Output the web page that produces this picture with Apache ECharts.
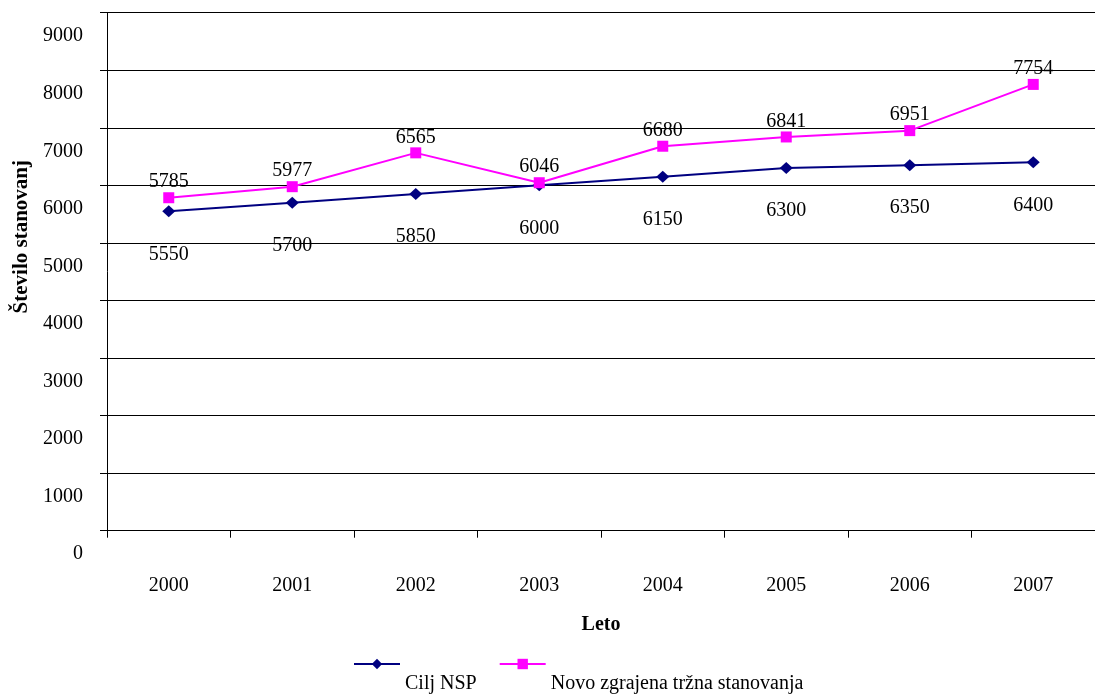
<!DOCTYPE html>
<html>
<head>
<meta charset="utf-8">
<script src="https://cdn.jsdelivr.net/npm/echarts@6/dist/echarts.min.js"></script>
<style>
    html, body { margin: 0; padding: 0; background: #fff; }
    #chart { width: 1095px; height: 697px; }
</style>
</head>
<body>
<div id="chart"></div>
<script>
// podatki
var years = ['2000', '2001', '2002', '2003', '2004', '2005', '2006', '2007']
var ciljNsp = [5550, 5700, 5850, 6000, 6150, 6300, 6350, 6400]
var novoZgrajena = [5785, 5977, 6565, 6046, 6680, 6841, 6951, 7754]

var serif = '"Liberation Serif", "DejaVu Serif", serif'

var myChart = echarts.init(document.getElementById('chart'))

var option = {
    backgroundColor: '#fff',
    animation: false,
    textStyle: {
        fontFamily: serif,
        color: '#000'
    },
    grid: {
        left: 107,
        right: -10,
        top: 12.7,
        bottom: 166.3,
        containLabel: false
    },
    legend: {
        top: 619,
        left: 348,
        itemWidth: 46,
        itemHeight: 13,
        itemGap: 22,
        // besedilo legende je v vrstici pod ikono
        formatter: '\n{name}',
        textStyle: {
            fontFamily: serif,
            fontSize: 20,
            lineHeight: 40,
            color: '#000'
        },
        data: ['Cilj NSP', 'Novo zgrajena tržna stanovanja']
    },
    xAxis: {
        type: 'category',
        data: years,
        name: 'Leto',
        nameLocation: 'middle',
        nameGap: 84,
        nameTextStyle: {
            fontFamily: serif,
            fontSize: 20,
            fontWeight: 'bold',
            color: '#000'
        },
        axisLine: { lineStyle: { color: '#000', width: 1 } },
        axisTick: { show: true, length: 7, lineStyle: { color: '#000' } },
        axisLabel: {
            margin: 45,
            fontFamily: serif,
            fontSize: 20,
            color: '#000'
        },
        splitLine: { show: false }
    },
    yAxis: {
        type: 'value',
        min: 0,
        max: 9000,
        interval: 1000,
        name: 'Število stanovanj',
        nameLocation: 'middle',
        nameGap: 72,
        nameTextStyle: {
            fontFamily: serif,
            fontSize: 21,
            fontWeight: 'bold',
            color: '#000',
            padding: [0, 0, 0, 70]
        },
        axisLine: { show: true, lineStyle: { color: '#000', width: 1 } },
        axisTick: { show: true, length: 7, lineStyle: { color: '#000' } },
        axisLabel: {
            margin: 24,
            fontFamily: serif,
            fontSize: 20,
            color: '#000',
            // oznake so zamaknjene pod mrežne črte
            verticalAlign: 'top',
            lineHeight: 47,
            formatter: function (value) {
                return String(value)
            }
        },
        splitLine: { show: true, lineStyle: { color: '#000', width: 1 } }
    },
    series: [
        {
            name: 'Cilj NSP',
            type: 'line',
            data: ciljNsp,
            symbol: 'diamond',
            symbolSize: [13, 12],
            itemStyle: { color: '#000080' },
            lineStyle: { color: '#000080', width: 2 },
            label: {
                show: true,
                position: 'bottom',
                distance: 27,
                fontFamily: serif,
                fontSize: 20,
                color: '#000'
            },
            z: 2
        },
        {
            name: 'Novo zgrajena tržna stanovanja',
            type: 'line',
            data: novoZgrajena,
            symbol: 'rect',
            symbolSize: 11,
            itemStyle: { color: '#FF00FF' },
            lineStyle: { color: '#FF00FF', width: 2 },
            label: {
                show: true,
                position: 'top',
                distance: 0,
                fontFamily: serif,
                fontSize: 20,
                color: '#000'
            },
            z: 3
        }
    ]
}

myChart.setOption(option)
</script>
</body>
</html>
